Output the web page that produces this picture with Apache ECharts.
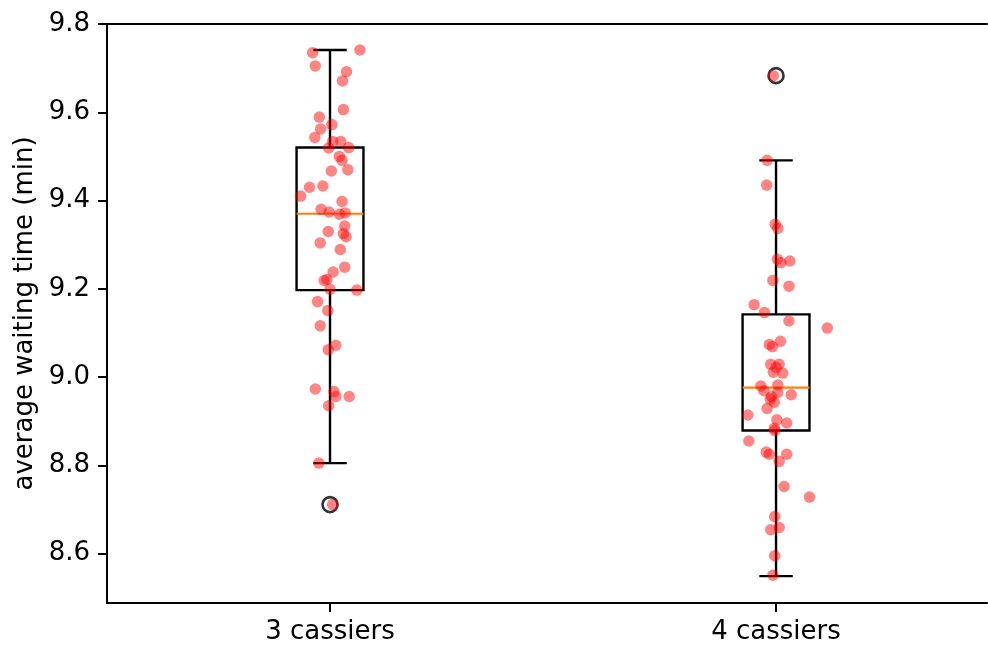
<!DOCTYPE html>
<html>
<head>
<meta charset="utf-8">
<script src="https://cdn.jsdelivr.net/npm/echarts@6/dist/echarts.min.js"></script>
<style>
  html, body { margin: 0; padding: 0; background: #fff; }
  #chart { width: 988px; height: 645px; }
</style>
</head>
<body>
<div id="chart"></div>
<script>
  const categories = ["3 cassiers", "4 cassiers"];
  const yTicks = [8.6, 8.8, 9.0, 9.2, 9.4, 9.6, 9.8];

  // [lower whisker, Q1, median, Q3, upper whisker]
  const boxStats = [
    [8.805, 9.197, 9.370, 9.520, 9.741],
    [8.549, 8.879, 8.976, 9.142, 9.491]
  ];
  const outliers = [[1, 8.711], [2, 9.683]];

  // jittered points, 3 cassiers
  const jitter3 = [0.961, 1.067, 0.967, 1.037, 1.028, 1.030, 0.976, 1.004, 0.979, 0.966,
    1.006, 1.024, 0.997, 1.042, 1.021, 1.027, 1.003, 1.040, 0.954, 0.984,
    0.934, 1.027, 0.980, 0.998, 1.021, 1.034, 1.033, 0.996, 1.030, 1.036,
    0.978, 1.023, 1.033, 1.007, 0.993, 0.987, 1.000, 1.060, 0.972, 0.995,
    0.978, 1.013, 0.996, 0.967, 1.009, 1.013, 1.043, 0.997, 0.975, 1.006];
  const wait3 = [9.735, 9.741, 9.705, 9.692, 9.671, 9.606, 9.589, 9.572, 9.562, 9.543,
    9.534, 9.534, 9.519, 9.520, 9.500, 9.491, 9.467, 9.470, 9.430, 9.433,
    9.410, 9.398, 9.380, 9.374, 9.369, 9.372, 9.342, 9.330, 9.325, 9.318,
    9.304, 9.289, 9.249, 9.238, 9.221, 9.219, 9.199, 9.197, 9.171, 9.151,
    9.116, 9.072, 9.062, 8.973, 8.967, 8.956, 8.956, 8.935, 8.805, 8.711];

  // jittered points, 4 cassiers
  const jitter4 = [1.994, 1.980, 1.979, 1.998, 2.004, 2.003, 2.011, 2.031, 1.993, 2.029,
    1.951, 1.974, 2.029, 2.115, 1.985, 1.992, 2.010, 1.988, 2.007, 2.000,
    1.994, 2.015, 1.966, 2.004, 1.973, 2.004, 1.990, 2.034, 1.987, 1.996,
    1.980, 1.937, 2.002, 2.024, 1.996, 1.997, 1.939, 1.978, 1.985, 2.024,
    2.007, 2.018, 2.075, 1.997, 1.988, 2.007, 1.997, 1.993];
  const wait4 = [9.683, 9.491, 9.435, 9.346, 9.337, 9.267, 9.259, 9.263, 9.219, 9.206,
    9.164, 9.146, 9.127, 9.111, 9.074, 9.069, 9.081, 9.029, 9.029, 9.022,
    9.011, 9.009, 8.980, 8.982, 8.969, 8.965, 8.956, 8.960, 8.950, 8.943,
    8.929, 8.914, 8.903, 8.896, 8.884, 8.879, 8.855, 8.830, 8.825, 8.825,
    8.809, 8.752, 8.728, 8.684, 8.654, 8.659, 8.595, 8.551];

  const font = "DejaVu Sans";
  const chart = echarts.init(document.getElementById("chart"));

  const boxData = boxStats.map((s, i) => [i + 1].concat(s));
  const points = jitter3.map((x, i) => [x, wait3[i]])
    .concat(jitter4.map((x, i) => [x, wait4[i]]));

  // box, whiskers, caps and median drawn like matplotlib's boxplot
  const renderBox = (params, api) => {
    const pos = api.value(0);
    const lo = api.value(1), q1 = api.value(2), med = api.value(3),
      q3 = api.value(4), hi = api.value(5);
    const hw = 0.075, cw = 0.0375;
    const p = (x, y) => api.coord([x, y]);
    const black = { stroke: "#000", lineWidth: 2.4, fill: null };
    const line = (a, b, style) => ({
      type: "line",
      shape: { x1: a[0], y1: a[1], x2: b[0], y2: b[1] },
      style: style || black
    });
    const tl = p(pos - hw, q3), br = p(pos + hw, q1);
    return {
      type: "group",
      children: [
        line(p(pos, q3), p(pos, hi)),
        line(p(pos, q1), p(pos, lo)),
        line(p(pos - cw, hi), p(pos + cw, hi)),
        line(p(pos - cw, lo), p(pos + cw, lo)),
        {
          type: "rect",
          shape: { x: tl[0], y: tl[1], width: br[0] - tl[0], height: br[1] - tl[1] },
          style: black
        },
        line(p(pos - hw, med), p(pos + hw, med), { stroke: "#ff7f0e", lineWidth: 2.2 })
      ]
    };
  };

  const spine = { color: "#000", width: 2 };

  const option = {
    animation: false,
    backgroundColor: "#fff",
    grid: { left: 107, right: 1, top: 24, bottom: 39 },
    xAxis: [
      {
        type: "value",
        min: 0.5,
        max: 2.473,
        splitLine: { show: false },
        axisLine: { lineStyle: spine },
        axisTick: { show: true, length: 9, lineStyle: spine, customValues: [1, 2] },
        axisLabel: {
          customValues: [1, 2],
          formatter: v => categories[Math.round(v) - 1],
          color: "#000",
          fontFamily: font,
          fontSize: 26,
          margin: 16
        }
      },
      {
        type: "value",
        position: "top",
        min: 0.5,
        max: 2.473,
        splitLine: { show: false },
        axisLine: { show: true, lineStyle: spine },
        axisTick: { show: false },
        axisLabel: { show: false }
      }
    ],
    yAxis: {
      type: "value",
      min: 8.488,
      max: 9.8,
      name: "average waiting time (min)",
      nameLocation: "middle",
      nameRotate: 90,
      nameGap: 62,
      nameTextStyle: { color: "#000", fontFamily: font, fontSize: 26 },
      splitLine: { show: false },
      axisLine: { show: true, lineStyle: spine },
      axisTick: { show: true, length: 9, lineStyle: spine, customValues: yTicks },
      axisLabel: {
        customValues: yTicks,
        formatter: v => v.toFixed(1),
        color: "#000",
        fontFamily: font,
        fontSize: 26,
        margin: 17
      }
    },
    series: [
      {
        type: "custom",
        renderItem: renderBox,
        data: boxData,
        encode: { x: 0, y: [1, 2, 3, 4, 5] },
        z: 2
      },
      {
        type: "scatter",
        data: outliers,
        symbol: "circle",
        symbolSize: 15,
        itemStyle: { color: "rgba(0,0,0,0)", borderColor: "#000", borderWidth: 2.6 },
        z: 3
      },
      {
        type: "scatter",
        data: points,
        symbolSize: 11.5,
        itemStyle: { color: "rgba(255,0,0,0.6)" },
        z: 4
      }
    ]
  };

  chart.setOption(option);
  window.addEventListener("resize", () => chart.resize());
</script>
</body>
</html>
